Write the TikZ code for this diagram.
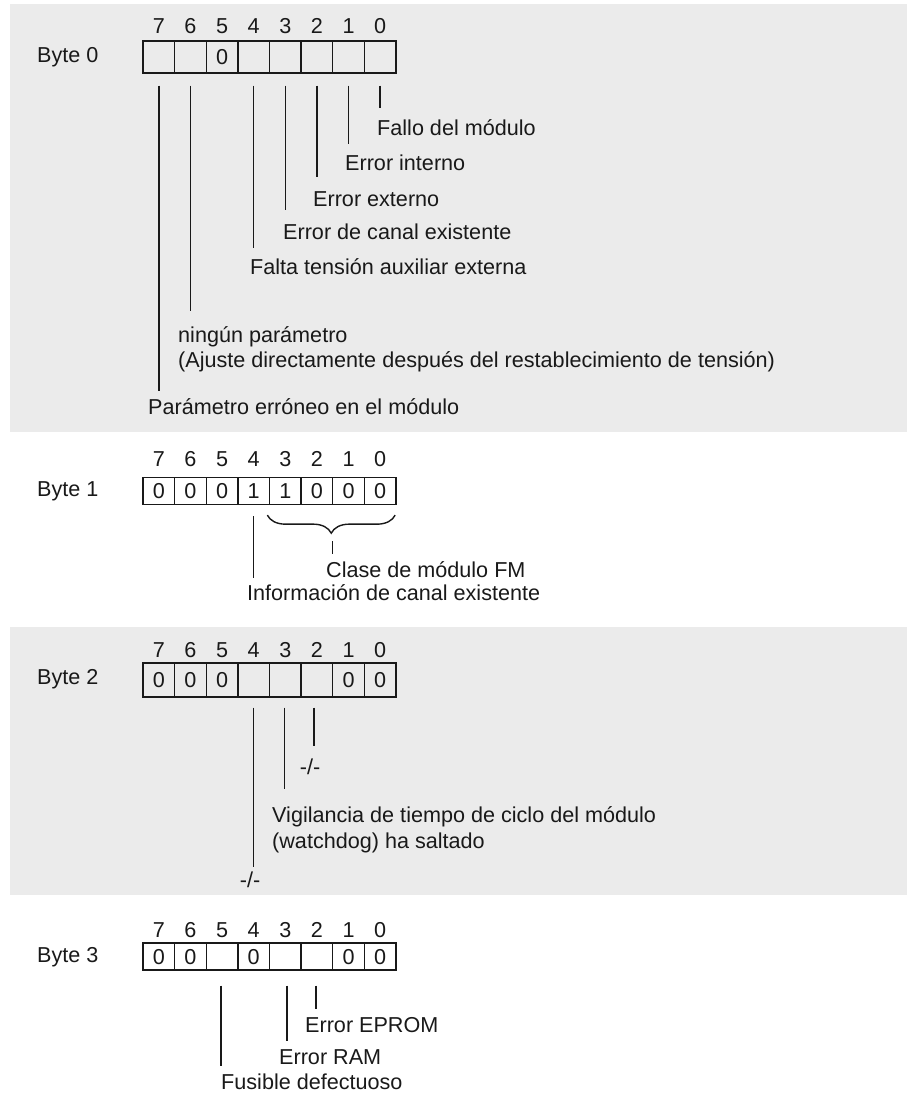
\documentclass[tikz,border=0pt]{standalone}
\usepackage{fontspec}
\setmainfont{Liberation Sans}
\usetikzlibrary{decorations.pathreplacing,calc}
\definecolor{panel}{RGB}{235,235,235}
\definecolor{ink}{RGB}{25,25,25}
\begin{document}
\begin{tikzpicture}[x=1pt,y=-1pt,
  txt/.style={font=\fontsize{21.6}{25}\selectfont, text=ink, inner sep=0pt, text height=15.4pt, text depth=0pt},
  lbl/.style={txt, anchor=west},
  num/.style={txt, anchor=center},
  cell/.style={txt, draw=ink, line width=1.3pt, minimum width=31.625pt, anchor=center},
  lead/.style={draw=ink, line width=1.4pt}]
\useasboundingbox (0,0) rectangle (907,1093);
\fill[panel] (10,4) rectangle (907,432);
\fill[panel] (10,627) rectangle (907,895);

% ---------- Byte 0
\node[lbl] (B0) at (37,55) {Byte 0};
\foreach \b/\v [count=\i from 0] in {7/{},6/{},5/0,4/{},3/{},2/{},1/{},0/{}}{
  \node[cell, minimum height=32pt] (a\b) at ({143+31.625*(\i+0.5)},57) {\v};
  \node[num] (na\b) at ({143+31.625*(\i+0.5)},25.5) {\b};
}
\node[lbl] (l0) at (377,128) {Fallo del módulo};
\node[lbl] (l1) at (345,163) {Error interno};
\node[lbl] (l2) at (313,199) {Error externo};
\node[lbl] (l3) at (283,232) {Error de canal existente};
\node[lbl] (l4) at (250,267) {Falta tensión auxiliar externa};
\node[lbl] (l6a) at (178,335) {ningún parámetro};
\node[lbl] (l6b) at (178,360) {(Ajuste directamente después del restablecimiento de tensión)};
\node[lbl] (l7) at (148,407) {Parámetro erróneo en el módulo};
\draw[lead] ([yshift=-12pt]a0.south) -- ++(0,22);
\draw[lead] ([yshift=-12pt]a1.south) -- ++(0,58);
\draw[lead] ([yshift=-12pt]a2.south) -- ++(0,91);
\draw[lead] ([yshift=-12pt]a3.south) -- ++(0,124);
\draw[lead] ([yshift=-12pt]a4.south) -- ++(0,162);
\draw[lead] ([yshift=-12pt]a6.south) -- ++(0,225);
\draw[lead] ([yshift=-12pt]a7.south) -- ++(0,305);

% ---------- Byte 1
\node[lbl] (B1) at (37,489) {Byte 1};
\foreach \b/\v [count=\i from 0] in {7/0,6/0,5/0,4/1,3/1,2/0,1/0,0/0}{
  \node[cell, minimum height=27pt] (c\b) at ({143+31.625*(\i+0.5)},491) {\v};
  \node[num] (nc\b) at ({143+31.625*(\i+0.5)},459) {\b};
}
\draw[lead] ([yshift=-11pt]c4.south) -- ++(0,62);
\draw[lead, decorate, decoration={brace, amplitude=18pt}]
  ([xshift=-1.5pt,yshift=-10pt]c0.south east) -- ([xshift=-1.5pt,yshift=-10pt]c3.south west);
\coordinate (brTip) at ($([yshift=-36pt]c3.south west)!0.5!([yshift=-36pt]c0.south east)$);
\draw[lead] (brTip) -- ++(0,13);
\node[lbl] (lc) at (326,570) {Clase de módulo FM};
\node[lbl] (lci) at (247,593) {Información de canal existente};

% ---------- Byte 2
\node[lbl] (B2) at (37,677) {Byte 2};
\foreach \b/\v [count=\i from 0] in {7/0,6/0,5/0,4/{},3/{},2/{},1/0,0/0}{
  \node[cell, minimum height=34pt] (d\b) at ({143+31.625*(\i+0.5)},680) {\v};
  \node[num] (nd\b) at ({143+31.625*(\i+0.5)},650) {\b};
}
\draw[lead] ([yshift=-10pt]d4.south) -- ++(0,159);
\draw[lead] ([xshift=-1pt,yshift=-10pt]d3.south) -- ++(0,81);
\draw[lead] ([xshift=-3pt,yshift=-10pt]d2.south) -- ++(0,38);
\node[num] (ld2) at (310,767) {-/-};
\node[lbl] (ld3a) at (272,815) {Vigilancia de tiempo de ciclo del módulo};
\node[lbl] (ld3b) at (272,841) {(watchdog) ha saltado};
\node[num] (ld4) at (250,880) {-/-};

% ---------- Byte 3
\node[lbl] (B3) at (37,955) {Byte 3};
\foreach \b/\v [count=\i from 0] in {7/0,6/0,5/{},4/0,3/{},2/{},1/0,0/0}{
  \node[cell, minimum height=27pt] (e\b) at ({143+31.625*(\i+0.5)},956.5) {\v};
  \node[num] (ne\b) at ({143+31.625*(\i+0.5)},930) {\b};
}
\draw[lead] ([xshift=-1pt,yshift=-15pt]e5.south) -- ++(0,80);
\draw[lead] ([xshift=1.5pt,yshift=-15pt]e3.south) -- ++(0,55);
\draw[lead] ([xshift=-1pt,yshift=-15pt]e2.south) -- ++(0,23);
\node[lbl] (le2) at (305,1025) {Error EPROM};
\node[lbl] (le3) at (279,1057) {Error RAM};
\node[lbl] (le5) at (221,1082) {Fusible defectuoso};
\end{tikzpicture}
\end{document}
